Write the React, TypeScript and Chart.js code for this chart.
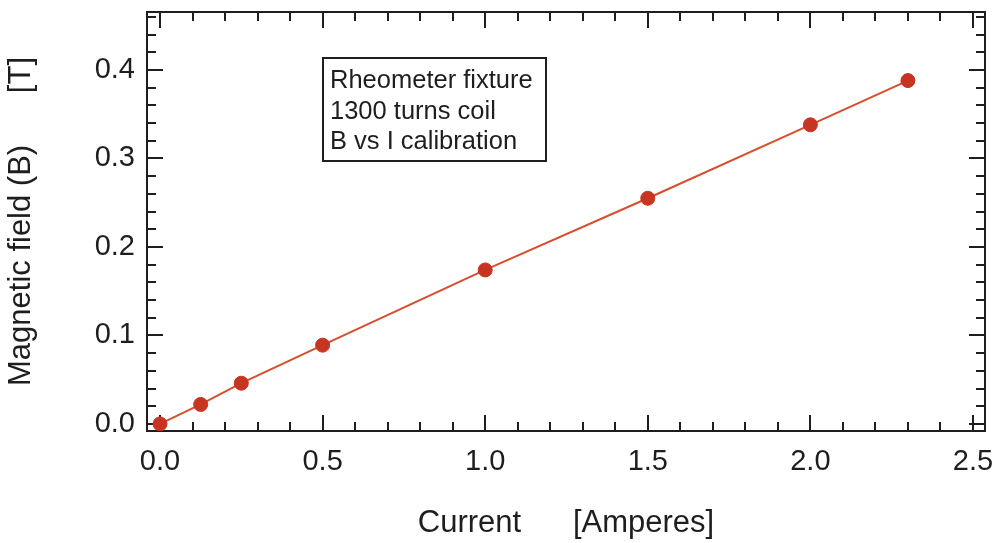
import React, { useEffect, useRef } from 'react';
import { Chart, registerables } from 'chart.js';

Chart.register(...registerables);

// ---- data ----
const CURRENT_A = [0, 0.125, 0.25, 0.5, 1.0, 1.5, 2.0, 2.3];
const FIELD_T = [0, 0.022, 0.046, 0.089, 0.174, 0.255, 0.338, 0.388];
const X_TICKS = [0, 0.5, 1.0, 1.5, 2.0, 2.5];
const Y_TICKS = [0, 0.1, 0.2, 0.3, 0.4];
const X_MIN = -0.04;
const X_MAX = 2.537;
const Y_MIN = -0.008;
const Y_MAX = 0.4655;
const X_MINOR_STEP = 0.1;
const Y_MINOR_STEP = 0.02;
const NOTE_LINES = ['Rheometer fixture', '1300 turns coil', 'B vs I calibration'];
const X_TITLE = 'Current      [Amperes]';
const Y_TITLE = 'Magnetic field (B)      [T]';

const FONT = '"Liberation Sans", Arial, Helvetica, sans-serif';
const INK = '#1e1e1e';

const framePlugin = {
  id: 'frameTicks',
  beforeDatasetsDraw(chart: any) {
    const { ctx, chartArea: a, scales } = chart;
    const xs = scales.x;
    const ys = scales.y;
    ctx.save();
    ctx.strokeStyle = INK;
    ctx.lineWidth = 2;
    ctx.strokeRect(a.left, a.top, a.right - a.left, a.bottom - a.top);

    const majorLen = 16;
    const minorLen = 9;
    const isMajor = (v: number, list: number[]) => list.some((t) => Math.abs(t - v) < 1e-6);
    ctx.lineWidth = 2;
    ctx.beginPath();
    const nx0 = Math.ceil(X_MIN / X_MINOR_STEP - 1e-9);
    const nx1 = Math.floor(X_MAX / X_MINOR_STEP + 1e-9);
    for (let i = nx0; i <= nx1; i++) {
      const v = +(i * X_MINOR_STEP).toFixed(4);
      const px = Math.round(xs.getPixelForValue(v));
      const len = isMajor(v, X_TICKS) ? majorLen : minorLen;
      ctx.moveTo(px, a.bottom);
      ctx.lineTo(px, a.bottom - len);
      ctx.moveTo(px, a.top);
      ctx.lineTo(px, a.top + len);
    }
    const ny0 = Math.ceil(Y_MIN / Y_MINOR_STEP - 1e-9);
    const ny1 = Math.floor(Y_MAX / Y_MINOR_STEP + 1e-9);
    for (let i = ny0; i <= ny1; i++) {
      const v = +(i * Y_MINOR_STEP).toFixed(4);
      const py = Math.round(ys.getPixelForValue(v));
      const len = isMajor(v, Y_TICKS) ? majorLen : minorLen;
      ctx.moveTo(a.left, py);
      ctx.lineTo(a.left + len, py);
      ctx.moveTo(a.right, py);
      ctx.lineTo(a.right - len, py);
    }
    ctx.stroke();

    // annotation box
    const bx = 323, by = 58, bw = 223, bh = 103;
    ctx.fillStyle = '#ffffff';
    ctx.fillRect(bx, by, bw, bh);
    ctx.lineWidth = 2;
    ctx.strokeRect(bx, by, bw, bh);
    ctx.fillStyle = INK;
    ctx.font = `25.5px ${FONT}`;
    ctx.textBaseline = 'alphabetic';
    ctx.textAlign = 'left';
    NOTE_LINES.forEach((t, i) => {
      ctx.fillText(t, bx + 7, by + 30 + i * 30.5);
    });
    ctx.restore();
  },
};

export default function App() {
  const ref = useRef<HTMLCanvasElement | null>(null);
  useEffect(() => {
    const canvas = ref.current;
    if (!canvas) return;
    const chart = new Chart(canvas, {
      type: 'scatter',
      data: {
        datasets: [
          {
            data: CURRENT_A.map((x, i) => ({ x, y: FIELD_T[i] })),
            showLine: true,
            borderColor: 'rgb(214, 78, 45)',
            borderWidth: 2,
            pointBackgroundColor: 'rgb(200, 52, 34)',
            pointBorderColor: 'rgb(200, 52, 34)',
            pointBorderWidth: 1,
            pointRadius: 7,
          },
        ],
      },
      options: {
        animation: false,
        responsive: false,
        devicePixelRatio: 1,
        layout: { padding: { top: 12, right: 14, left: 0, bottom: 0 } },
        plugins: { legend: { display: false }, tooltip: { enabled: false } },
        scales: {
          x: {
            type: 'linear',
            min: X_MIN,
            max: X_MAX,
            grid: { display: false, drawTicks: false },
            border: { display: false },
            afterBuildTicks: (s: any) => {
              s.ticks = X_TICKS.map((v) => ({ value: v }));
            },
            afterFit: (s: any) => {
              s.height = 112;
              s.paddingLeft = 0;
              s.paddingRight = 0;
            },
            ticks: {
              padding: 14,
              color: INK,
              maxRotation: 0,
              font: { family: FONT, size: 29 },
              callback: (v: any) => Number(v).toFixed(1),
            },
            title: {
              display: true,
              text: X_TITLE,
              color: INK,
              font: { family: FONT, size: 31 },
              padding: { top: 0, bottom: 1 },
            },
          },
          y: {
            type: 'linear',
            min: Y_MIN,
            max: Y_MAX,
            grid: { display: false, drawTicks: false },
            border: { display: false },
            afterBuildTicks: (s: any) => {
              s.ticks = Y_TICKS.map((v) => ({ value: v }));
            },
            afterFit: (s: any) => {
              s.width = 147;
              s.paddingTop = 0;
              s.paddingBottom = 0;
            },
            ticks: {
              padding: 12,
              color: INK,
              font: { family: FONT, size: 29 },
              callback: (v: any) => Number(v).toFixed(1),
            },
            title: {
              display: true,
              text: Y_TITLE,
              color: INK,
              font: { family: FONT, size: 31 },
              padding: { top: 3, bottom: 0 },
            },
          },
        },
      },
      plugins: [framePlugin],
    });
    return () => chart.destroy();
  }, []);
  return (
    <div style={{ position: 'absolute', left: 0, top: 0, width: 999, height: 543, background: '#fff' }}>
      <canvas ref={ref} width={999} height={543} />
    </div>
  );
}
